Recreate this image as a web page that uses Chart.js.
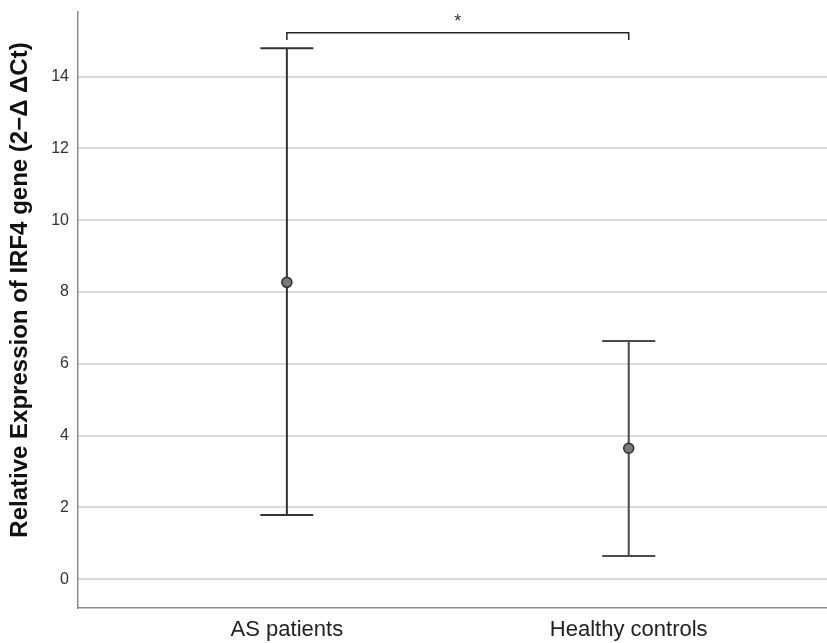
<!DOCTYPE html>
<html>
<head>
<meta charset="utf-8">
<script src="https://cdn.jsdelivr.net/npm/chart.js@4"></script>
<style>
  html, body { margin: 0; padding: 0; background: #fff; }
  #wrap { width: 827px; height: 643px; }
</style>
</head>
<body>
<div id="wrap"><canvas id="graph" width="827" height="643"></canvas></div>
<script>
// Values
const groups = ['AS patients', 'Healthy controls'];
const means = [8.27, 3.65];
const lower = [1.79, 0.65];
const upper = [14.79, 6.64];
const yTicks = [0, 2, 4, 6, 8, 10, 12, 14];
const sigLevel = 15.22;   // bracket height
const sigDrop = 15.02;    // bracket leg end
const sigMark = '*';

const barColors = ['#333333', '#4a4a4a'];
const fontFam = '"Liberation Sans", Arial, sans-serif';

// error bars and significance bracket
const errorBars = {
    id: 'errorBars',
    beforeDatasetsDraw(chart) {
        const ctx = chart.ctx;
        const xs = chart.scales.x, ys = chart.scales.y;
        ctx.save();
        groups.forEach((g, i) => {
            const x = xs.getPixelForValue(i);
            const yl = ys.getPixelForValue(lower[i]);
            const yu = ys.getPixelForValue(upper[i]);
            ctx.strokeStyle = barColors[i];
            ctx.lineWidth = 2;
            ctx.beginPath();
            ctx.moveTo(x, yu); ctx.lineTo(x, yl);
            ctx.moveTo(x - 26.5, yu); ctx.lineTo(x + 26.5, yu);
            ctx.moveTo(x - 26.5, yl); ctx.lineTo(x + 26.5, yl);
            ctx.stroke();
        });
        // bracket
        const x0 = xs.getPixelForValue(0), x1 = xs.getPixelForValue(1);
        const yb = ys.getPixelForValue(sigLevel), yd = ys.getPixelForValue(sigDrop);
        ctx.strokeStyle = '#222';
        ctx.lineWidth = 1.5;
        ctx.beginPath();
        ctx.moveTo(x0, yd); ctx.lineTo(x0, yb); ctx.lineTo(x1, yb); ctx.lineTo(x1, yd);
        ctx.stroke();
        ctx.fillStyle = '#333';
        ctx.font = '18px ' + fontFam;
        ctx.textAlign = 'center';
        ctx.textBaseline = 'middle';
        ctx.fillText(sigMark, (x0 + x1) / 2, yb - 11);
        ctx.restore();
    }
};

const ctx = document.getElementById('graph').getContext('2d');
new Chart(ctx, {
    type: 'scatter',
    data: {
        datasets: [{
            label: 'Mean',
            data: means.map((m, i) => ({ x: i, y: m })),
            backgroundColor: '#7a7a7a',
            borderColor: '#2e2e2e',
            borderWidth: 1.5,
            pointRadius: 5,
            pointHoverRadius: 5
        }]
    },
    options: {
        responsive: false,
        animation: false,
        layout: { autoPadding: false, padding: { top: 12, right: 0, left: 0, bottom: 0 } },
        plugins: { legend: { display: false }, tooltip: { enabled: false } },
        scales: {
            x: {
                type: 'linear',
                min: -0.611,
                max: 1.58,
                afterBuildTicks: s => { s.ticks = groups.map((g, i) => ({ value: i })); },
                afterFit: s => { s.height = 35; s.paddingLeft = 0; s.paddingRight = 0; },
                grid: { display: false, drawTicks: false },
                border: { display: true, color: '#8a8a8a', width: 1.5 },
                ticks: {
                    padding: 9,
                    color: '#222',
                    font: { family: fontFam, size: 22 },
                    callback: v => groups[v]
                }
            },
            y: {
                min: -0.8,
                max: 15.8,
                afterBuildTicks: s => { s.ticks = yTicks.map(v => ({ value: v })); },
                afterFit: s => { s.width = 78; s.paddingTop = 0; s.paddingBottom = 0; },
                grid: { color: '#dadada', lineWidth: 2, drawTicks: false },
                border: { display: true, color: '#8a8a8a', width: 1.5 },
                ticks: {
                    padding: 9,
                    color: '#333',
                    font: { family: fontFam, size: 16 }
                },
                title: {
                    display: true,
                    text: '      Relative Expression of IRF4 gene (2\u2212\u0394 \u0394Ct)',
                    color: '#111',
                    font: { family: fontFam, size: 24, weight: 'bold' },
                    padding: { top: 6, bottom: 0 }
                }
            }
        }
    },
    plugins: [errorBars]
});
</script>
</body>
</html>
